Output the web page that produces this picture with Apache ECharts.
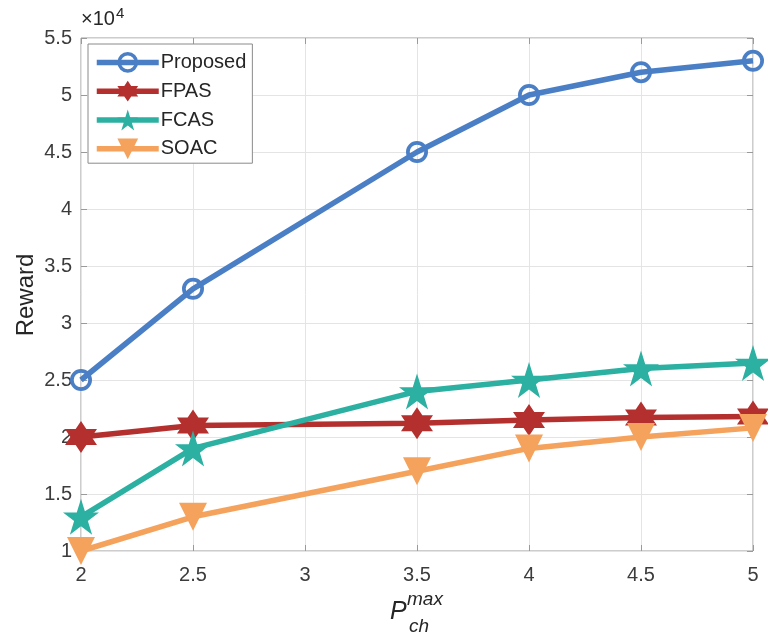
<!DOCTYPE html>
<html>
<head>
<meta charset="utf-8">
<script src="https://cdn.jsdelivr.net/npm/echarts@6/dist/echarts.min.js"></script>
<style>
  html, body { margin: 0; padding: 0; background: #fff; }
  #chart { width: 768px; height: 634px; }
</style>
</head>
<body>
<div id="chart"></div>
<script>
// Maximum charging power values on the horizontal axis
const pMax = [2, 2.5, 3.5, 4, 4.5, 5];

// Reward of each scheme
const proposed = [25000, 33000, 45000, 50000, 52000, 53000];
const fpas     = [20000, 21000, 21200, 21500, 21700, 21800];
const fcas     = [13000, 19000, 24000, 25000, 26000, 26500];
const soac     = [10000, 13000, 17000, 19000, 20000, 20800];

const seriesNames = ['Proposed', 'FPAS', 'FCAS', 'SOAC'];
const seriesColors = ['#4a7fc6', '#b3302f', '#2bb0a2', '#f4a25c'];

const xTicks = [2, 2.5, 3, 3.5, 4, 4.5, 5];
const yTicks = [1, 1.5, 2, 2.5, 3, 3.5, 4, 4.5, 5, 5.5];

// Marker outlines
const RING  = 'path://M-10,0A10,10 0 1,0 10,0A10,10 0 1,0 -10,0Z M-6.6,0A6.6,6.6 0 1,1 6.6,0A6.6,6.6 0 1,1 -6.6,0Z';
const STAR5 = 'path://M0,-10L2.245,-3.09L9.51,-3.09L3.633,1.18L5.88,8.09L0,3.82L-5.88,8.09L-3.633,1.18L-9.51,-3.09L-2.245,-3.09Z';
const STAR6 = 'path://M0,-10L2.887,-5L8.66,-5L5.77,0L8.66,5L2.887,5L0,10L-2.887,5L-8.66,5L-5.77,0L-8.66,-5L-2.887,-5Z';

const pairs = (ys) => pMax.map((x, i) => [x, ys[i]]);

const font = 'Arial, "Liberation Sans", Helvetica, sans-serif';
const axisGrey = '#9a9a9a';
const chart = echarts.init(document.getElementById('chart'));

const lineSeries = (name, data, color, symbol, size, extra) => Object.assign({
  name: name,
  type: 'line',
  data: pairs(data),
  symbol: symbol,
  symbolSize: size,
  showAllSymbol: true,
  lineStyle: { color: color, width: 5.5 },
  itemStyle: { color: color, borderWidth: 0 },
  emphasis: { disabled: true },
  animation: false,
  z: 3
}, extra || {});

const tickOnly = { show: true, inside: true, length: 6, lineStyle: { color: axisGrey } };

chart.setOption({
  animation: false,
  grid: { left: 81, right: 15, top: 38, bottom: 83, show: true, borderColor: axisGrey, borderWidth: 1 },
  xAxis: [{
    type: 'value',
    min: 2, max: 5, interval: 0.5,
    axisLine: { show: false },
    axisTick: tickOnly,
    splitLine: { show: true, lineStyle: { color: '#e4e4e4', width: 1 } },
    axisLabel: {
      color: '#3c3c3c', fontSize: 20, fontFamily: font, margin: 14,
      formatter: (v) => xTicks.includes(v) ? String(v) : ''
    }
  }, {
    type: 'value', position: 'top',
    min: 2, max: 5, interval: 0.5,
    axisLine: { show: false }, axisTick: tickOnly,
    splitLine: { show: false }, axisLabel: { show: false }
  }],
  yAxis: [{
    type: 'value',
    min: 10000, max: 55000, interval: 5000,
    axisLine: { show: false },
    axisTick: tickOnly,
    splitLine: { show: true, lineStyle: { color: '#e4e4e4', width: 1 } },
    axisLabel: {
      color: '#3c3c3c', fontSize: 20, fontFamily: font, margin: 9,
      formatter: (v) => { const t = v / 10000; return yTicks.includes(t) ? String(t) : ''; }
    }
  }, {
    type: 'value', position: 'right',
    min: 10000, max: 55000, interval: 5000,
    axisLine: { show: false }, axisTick: tickOnly,
    splitLine: { show: false }, axisLabel: { show: false }
  }],
  legend: {
    show: true,
    orient: 'vertical',
    left: 88, top: 44,
    padding: [8, 6, 4, 6],
    itemGap: 8,
    itemWidth: 62, itemHeight: 26,
    backgroundColor: '#ffffff',
    borderColor: '#8a8a8a', borderWidth: 1, borderRadius: 0,
    lineStyle: { width: 5.5 },
    textStyle: { color: '#262626', fontSize: 20, fontFamily: font, padding: [0, 0, 0, -3] },
    data: seriesNames,
    selectedMode: false
  },
  series: [
    lineSeries('Proposed', proposed, seriesColors[0], RING, 22),
    lineSeries('FPAS', fpas, seriesColors[1], STAR6, 32),
    lineSeries('FCAS', fcas, seriesColors[2], STAR5, 36),
    lineSeries('SOAC', soac, seriesColors[3], 'triangle', 28, { symbolRotate: 180 })
  ],
  graphic: [
    {
      type: 'text', left: 81, top: 6,
      style: {
        text: '×10{s|4}',
        fontSize: 20, fontFamily: font, fill: '#262626',
        rich: { s: { fontSize: 15, verticalAlign: 'top', padding: [0, 0, 12, 1], fill: '#262626', fontFamily: font } }
      }
    },
    {
      type: 'text', x: 26, y: 295, rotation: Math.PI / 2,
      style: {
        text: 'Reward', fontSize: 24, fontFamily: font, fill: '#262626',
        align: 'center', verticalAlign: 'middle'
      }
    },
    {
      type: 'text', x: 390, y: 612,
      style: { text: 'P', fontSize: 25, fontStyle: 'italic', fontFamily: font, fill: '#262626', verticalAlign: 'middle' }
    },
    {
      type: 'text', x: 407, y: 600,
      style: { text: 'max', fontSize: 19, fontStyle: 'italic', fontFamily: font, fill: '#262626', verticalAlign: 'middle' }
    },
    {
      type: 'text', x: 409, y: 627,
      style: { text: 'ch', fontSize: 19, fontStyle: 'italic', fontFamily: font, fill: '#262626', verticalAlign: 'middle' }
    }
  ]
});
</script>
</body>
</html>
